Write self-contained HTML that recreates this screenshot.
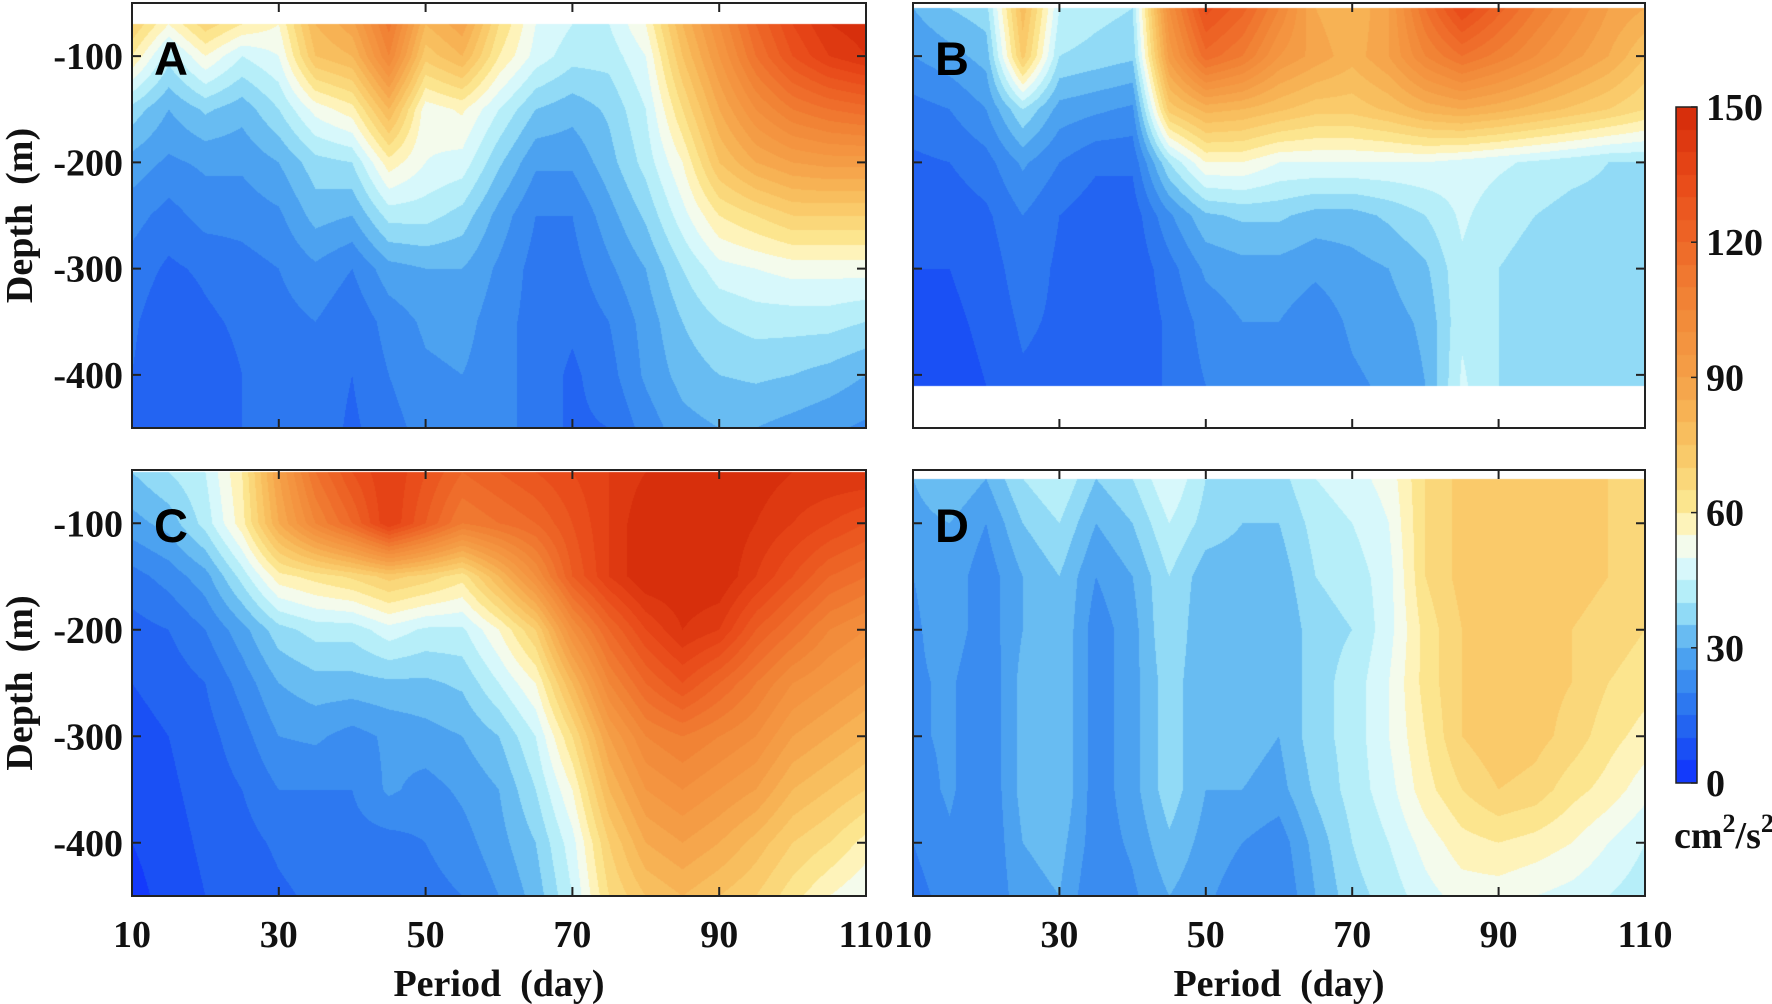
<!DOCTYPE html>
<html><head><meta charset="utf-8">
<style>
html,body{margin:0;padding:0;background:#fff;width:1772px;height:1004px;overflow:hidden}
#wrap{position:relative;width:1772px;height:1004px}
canvas{position:absolute}
svg{position:absolute;left:0;top:0}
text{font-family:"Liberation Serif",serif;font-weight:bold;fill:#111}
.lt{font-family:"Liberation Sans",sans-serif;font-weight:bold;font-size:47px;fill:#000}
</style></head>
<body><div id="wrap">
<canvas id="cA"></canvas>
<canvas id="cB"></canvas>
<canvas id="cC"></canvas>
<canvas id="cD"></canvas>
<canvas id="cbar"></canvas>
<svg id="ov" width="1772" height="1004"></svg>
</div>
<script>
const periods=[10,15,20,25,30,35,40,45,50,55,60,65,70,75,80,85,90,95,100,105,110];
const xTicks=[10,30,50,70,90,110];
const yTicks=[-100,-200,-300,-400];
const cbTicks=[0,30,60,90,120,150];
const depthsA=[-70,-100,-150,-200,-250,-300,-350,-400,-450];
const valuesA=[
[70,55,68,60,55,80,88,112,80,88,65,50,45,45,55,80,100,120,135,145,148],
[60,42,55,45,50,75,80,105,72,80,60,48,42,42,50,75,95,115,130,140,145],
[38,30,36,32,40,52,58,80,52,56,45,35,32,36,45,65,85,100,110,115,118],
[28,24,26,26,30,38,40,58,50,48,36,26,26,33,42,55,75,85,90,92,92],
[22,18,22,22,24,32,30,42,42,38,28,20,20,28,36,48,60,65,70,70,70],
[18,14,16,18,20,24,20,28,30,30,24,18,18,24,30,40,48,50,52,52,52],
[16,11,14,16,18,20,16,22,26,27,22,18,16,20,27,35,40,42,42,42,40],
[15,10,12,15,16,18,15,20,24,25,22,18,14,18,26,32,35,36,35,33,30],
[15,10,12,15,16,18,14,18,22,24,22,18,14,15,22,28,30,30,28,26,24]];
const depthsB=[-55,-100,-150,-200,-250,-300,-350,-410];
const valuesB=[
[30,35,38,78,45,42,40,100,132,122,105,85,80,90,115,135,122,110,100,90,85],
[25,28,32,72,40,38,36,92,118,110,95,88,82,90,105,115,108,100,92,85,75],
[18,20,25,40,28,26,24,72,82,80,76,72,72,76,82,85,82,78,74,70,65],
[14,15,18,26,20,16,16,40,55,55,50,50,50,50,50,48,46,44,42,40,40],
[11,12,14,20,15,12,12,24,34,36,36,33,33,36,40,46,42,40,38,38,38],
[10,10,12,18,14,10,11,18,26,28,28,26,28,30,34,44,40,38,36,36,36],
[9,9,11,16,14,10,11,16,22,25,25,22,26,28,31,44,40,38,36,36,36],
[8,8,10,14,13,10,11,16,20,24,24,20,24,26,30,46,40,38,36,36,36]];
const depthsC=[-52,-100,-150,-200,-250,-300,-350,-400,-450];
const valuesC=[
[35,40,45,60,90,115,130,140,130,120,125,130,135,140,145,150,150,148,145,145,145],
[28,32,42,58,85,105,120,140,125,110,115,120,130,140,150,150,150,145,140,135,130],
[18,22,28,42,58,62,66,72,68,62,80,100,125,140,150,150,150,140,130,120,115],
[13,15,20,28,38,42,42,48,44,44,55,70,100,120,135,145,140,125,115,105,100],
[10,12,15,22,30,33,33,34,34,36,45,55,80,105,120,130,120,110,100,95,90],
[8,10,13,18,25,26,23,26,28,30,35,45,65,90,105,110,105,100,90,85,80],
[6,9,12,15,20,20,20,26,23,26,30,40,55,80,95,100,95,90,80,75,70],
[5,8,11,13,16,18,18,18,20,23,28,35,48,70,85,90,85,78,70,65,58],
[3,7,10,11,14,16,16,16,18,20,25,32,45,65,75,80,75,70,62,55,50]];
const depthsD=[-58,-100,-150,-200,-250,-300,-350,-400,-450];
const valuesD=[
[30,35,30,40,45,35,40,50,40,40,38,45,48,52,65,72,72,72,70,70,70],
[28,30,25,35,40,30,35,45,38,35,35,42,45,50,65,72,72,72,72,70,68],
[25,28,22,30,35,25,30,40,32,32,32,40,42,48,65,72,75,72,72,70,68],
[24,28,22,30,35,22,28,40,30,32,30,38,40,48,62,70,75,72,70,68,65],
[24,26,20,32,35,22,28,38,30,32,30,38,42,50,62,70,75,72,70,65,62],
[24,26,20,32,35,22,28,38,30,32,30,38,42,50,60,70,74,72,68,62,58],
[22,26,20,32,35,22,28,38,30,30,28,36,42,48,58,65,70,68,62,58,52],
[20,24,20,30,32,22,26,34,28,25,22,32,40,45,52,58,60,58,55,50,45],
[18,22,20,28,30,20,24,30,26,22,20,30,38,42,48,52,52,50,48,45,42]];

const cmap=[[0,16,48,255],[10,30,90,242],[20,50,130,240],[30,84,172,240],[40,165,234,248],[50,232,252,252],[55,255,250,220],[60,252,236,152],[70,250,208,112],[80,248,184,88],[90,245,160,72],[105,242,136,56],[120,238,104,40],[135,232,72,24],[150,212,42,10]];
function col(v){v=Math.max(0,Math.min(150,v));for(let i=1;i<cmap.length;i++){if(v<=cmap[i][0]){const a=cmap[i-1],b=cmap[i],t=(v-a[0])/(b[0]-a[0]);return [a[1]+t*(b[1]-a[1]),a[2]+t*(b[2]-a[2]),a[3]+t*(b[3]-a[3])];}}return cmap[cmap.length-1].slice(1);}
function quant(v){return Math.min(147.5,Math.floor(Math.max(0,v)/5)*5+2.5);}

const panels=[
{id:'cA',x0:132,x1:866,y0:3,y1:428,d:depthsA,v:valuesA,letter:'A',ylab:true,xlab:false},
{id:'cB',x0:913,x1:1645,y0:3,y1:428,d:depthsB,v:valuesB,letter:'B',ylab:false,xlab:false},
{id:'cC',x0:132,x1:866,y0:470,y1:896,d:depthsC,v:valuesC,letter:'C',ylab:true,xlab:true},
{id:'cD',x0:913,x1:1645,y0:470,y1:896,d:depthsD,v:valuesD,letter:'D',ylab:false,xlab:true}];
const DTOP=-50,DBOT=-450,PMIN=10,PMAX=110;

function interp(p,dep,P){
  const d=P.d,v=P.v;
  let j=0;while(j<periods.length-2&&p>periods[j+1])j++;
  let tx=(p-periods[j])/(periods[j+1]-periods[j]);tx=Math.max(0,Math.min(1,tx));
  let i=0;while(i<d.length-2&&dep<d[i+1])i++;
  let ty=(d[i]-dep)/(d[i]-d[i+1]);ty=Math.max(0,Math.min(1,ty));
  const a=v[i][j]*(1-tx)+v[i][j+1]*tx, b=v[i+1][j]*(1-tx)+v[i+1][j+1]*tx;
  return a*(1-ty)+b*ty;
}
panels.forEach(P=>{
  const c=document.getElementById(P.id),W=P.x1-P.x0,H=P.y1-P.y0;
  c.width=W;c.height=H;c.style.left=P.x0+'px';c.style.top=P.y0+'px';
  const ctx=c.getContext('2d'),img=ctx.createImageData(W,H);
  for(let y=0;y<H;y++){const dep=DTOP-(y+0.5)/H*(DTOP-DBOT);
    for(let x=0;x<W;x++){const p=PMIN+(x+0.5)/W*(PMAX-PMIN);const k=(y*W+x)*4;
      let r=255,g=255,b=255;
      if(dep<=P.d[0]&&dep>=P.d[P.d.length-1]){[r,g,b]=col(quant(interp(p,dep,P)));}
      img.data[k]=r;img.data[k+1]=g;img.data[k+2]=b;img.data[k+3]=255;}}
  ctx.putImageData(img,0,0);
});
const CB={x0:1676,x1:1697,y0:107,y1:783};
(function(){const c=document.getElementById('cbar');c.width=CB.x1-CB.x0;c.height=CB.y1-CB.y0;c.style.left=CB.x0+'px';c.style.top=CB.y0+'px';
const ctx=c.getContext('2d');const H=c.height;
for(let y=0;y<H;y++){const v=150-(y+0.5)/H*150;const [r,g,b]=col(quant(v));ctx.fillStyle=`rgb(${r|0},${g|0},${b|0})`;ctx.fillRect(0,y,c.width,1);}})();

const NS='http://www.w3.org/2000/svg',ov=document.getElementById('ov');
function el(tag,attrs,txt){const e=document.createElementNS(NS,tag);for(const k in attrs)e.setAttribute(k,attrs[k]);if(txt!==undefined)e.textContent=txt;ov.appendChild(e);return e;}
panels.forEach(P=>{
  const xs=p=>P.x0+(p-PMIN)/(PMAX-PMIN)*(P.x1-P.x0);
  const ys=d=>P.y0+(DTOP-d)/(DTOP-DBOT)*(P.y1-P.y0);
  const fr=el('rect',{x:P.x0,y:P.y0,width:P.x1-P.x0,height:P.y1-P.y0,fill:'none',stroke:'#222','stroke-width':2});
  
  
  xTicks.forEach(t=>{const x=xs(t);
    const a=el('line',{x1:x,x2:x,y1:P.y1,y2:P.y1-9,stroke:'#222','stroke-width':2});
    
    
    const b=el('line',{x1:x,x2:x,y1:P.y0,y2:P.y0+9,stroke:'#222','stroke-width':2});
    
    
    if(P.xlab){const t2=el('text',{x:x,y:947,'font-size':38,'text-anchor':'middle'},String(t));
      
      }
  });
  yTicks.forEach(t=>{const y=ys(t);
    const a=el('line',{x1:P.x0,x2:P.x0+9,y1:y,y2:y,stroke:'#222','stroke-width':2});
    
    
    const b=el('line',{x1:P.x1,x2:P.x1-9,y1:y,y2:y,stroke:'#222','stroke-width':2});
    
    
    if(P.ylab){const t2=el('text',{x:123,y:y+13,'font-size':38,'text-anchor':'end'},String(t));
      
      }
  });
  const L=el('text',{x:P.x0+22,y:P.y0+72,class:'lt'},P.letter);
  
  
  if(P.ylab){const cy=(P.y0+P.y1)/2;const t=el('text',{x:0,y:0,'font-size':38,'text-anchor':'middle',transform:`translate(32,${cy}) rotate(-90)`},'Depth\u00a0\u00a0(m)');
    
    }
  if(P.xlab){const t=el('text',{x:(P.x0+P.x1)/2,y:996,'font-size':38,'text-anchor':'middle'},'Period\u00a0\u00a0(day)');
    
    }
});
const cf=el('rect',{x:CB.x0,y:CB.y0,width:CB.x1-CB.x0,height:CB.y1-CB.y0,fill:'none',stroke:'#222','stroke-width':1.5});


cbTicks.forEach(t=>{const y=CB.y1-t/150*(CB.y1-CB.y0);
  const a=el('line',{x1:CB.x1,x2:CB.x1-6,y1:y,y2:y,stroke:'#222','stroke-width':1.5});
  
  
  const b=el('text',{x:1706,y:y+13,'font-size':38},String(t));
  
  
});
const u=el('text',{x:1674,y:848,'font-size':38},'');


u.innerHTML='cm<tspan dy="-16" font-size="26">2</tspan><tspan dy="16">/s</tspan><tspan dy="-16" font-size="26">2</tspan>';
</script>
</body></html>
